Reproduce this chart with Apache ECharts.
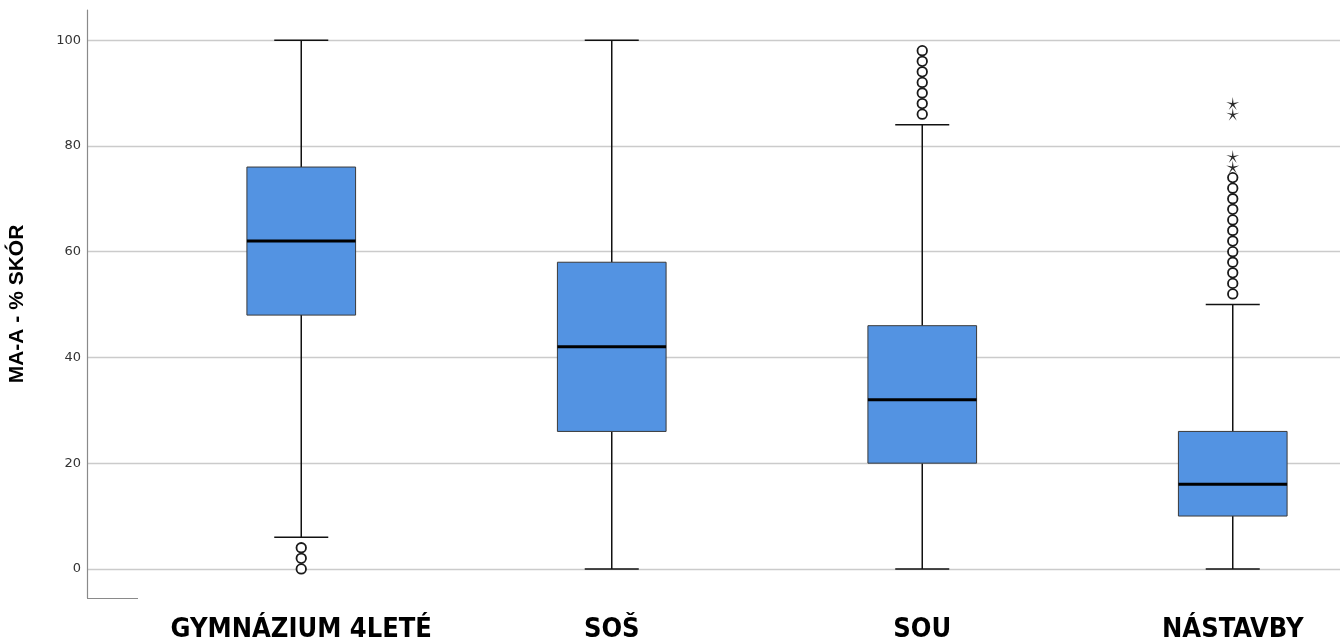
<!DOCTYPE html>
<html>
<head>
<meta charset="utf-8">
<script src="https://cdn.jsdelivr.net/npm/echarts@6/dist/echarts.min.js"></script>
<style>
  html, body { margin: 0; padding: 0; background: #fff; }
  #chart { width: 1340px; height: 642px; }
</style>
</head>
<body>
<div id="chart"></div>
<script>
const categories = ['GYMNÁZIUM 4LETÉ', 'SOŠ', 'SOU', 'NÁSTAVBY']
// box statistics: lower whisker, Q1, median, Q3, upper whisker
const lowerWhisker = [6, 0, 0, 0]
const q1 = [48, 26, 20, 10]
const median = [62, 42, 32, 16]
const q3 = [76, 58, 46, 26]
const upperWhisker = [100, 100, 84, 50]
// outliers (circles) and extremes (stars): [category index, value]
const outliers = [
  [0, 0], [0, 2], [0, 4],
  [2, 86], [2, 88], [2, 90], [2, 92], [2, 94], [2, 96], [2, 98],
  [3, 52], [3, 54], [3, 56], [3, 58], [3, 60], [3, 62], [3, 64], [3, 66], [3, 68], [3, 70], [3, 72], [3, 74]
]
const extremes = [[3, 76], [3, 78], [3, 86], [3, 88]]
const yTicks = [0, 20, 40, 60, 80, 100]

const yMin = -5.5
const yMax = 105.7

const boxData = categories.map((_, i) => [i, lowerWhisker[i], q1[i], median[i], q3[i], upperWhisker[i]])

const starPath = 'path://M0 -10L1.18 -1.62L9.51 -3.09L1.9 0.62L5.88 8.09L0 2L-5.88 8.09L-1.9 0.62L-9.51 -3.09L-1.18 -1.62Z'

function renderBox(params, api) {
  const i = api.value(0)
  const lo = api.coord([i, api.value(1)])
  const b1 = api.coord([i, api.value(2)])
  const md = api.coord([i, api.value(3)])
  const b3 = api.coord([i, api.value(4)])
  const hi = api.coord([i, api.value(5)])
  const band = api.size([1, 0])[0]
  const half = band * 0.175
  const cap = band * 0.087
  const x = lo[0]
  const lineStyle = { stroke: '#111', lineWidth: 1.5 }
  return {
    type: 'group',
    children: [
      { type: 'line', shape: { x1: x, y1: hi[1], x2: x, y2: b3[1] }, style: lineStyle },
      { type: 'line', shape: { x1: x, y1: b1[1], x2: x, y2: lo[1] }, style: lineStyle },
      { type: 'line', shape: { x1: x - cap, y1: hi[1], x2: x + cap, y2: hi[1] }, style: lineStyle },
      { type: 'line', shape: { x1: x - cap, y1: lo[1], x2: x + cap, y2: lo[1] }, style: lineStyle },
      {
        type: 'rect',
        shape: { x: x - half, y: b3[1], width: half * 2, height: b1[1] - b3[1] },
        style: { fill: '#5393e2', stroke: '#3a3a3a', lineWidth: 1 }
      },
      { type: 'line', shape: { x1: x - half, y1: md[1], x2: x + half, y2: md[1] }, style: { stroke: '#000', lineWidth: 3 } }
    ]
  }
}

const chart = echarts.init(document.getElementById('chart'))
chart.setOption({
  animation: false,
  backgroundColor: '#fff',
  grid: [
    { left: 87, right: 0, top: 10, bottom: 44, outerBoundsMode: 'none', containLabel: false },
    { left: 146, width: 1242, top: 10, bottom: 44, outerBoundsMode: 'none', containLabel: false }
  ],
  xAxis: [
    { gridIndex: 0, type: 'value', min: 0, max: 1, show: false },
    {
      gridIndex: 1,
      type: 'category',
      data: categories,
      axisLine: { show: false },
      axisTick: { show: false },
      axisLabel: {
        interval: 0,
        margin: 18,
        color: '#000',
        fontFamily: "'DejaVu Sans Condensed', 'Liberation Sans', sans-serif",
        fontWeight: 'bold',
        fontSize: 27
      }
    }
  ],
  yAxis: [
    {
      gridIndex: 0,
      type: 'value',
      min: yMin,
      max: yMax,
      name: 'MA-A - % SKÓR',
      nameLocation: 'middle',
      nameGap: 59,
      nameTextStyle: { color: '#000', fontFamily: 'Liberation Sans', fontWeight: 'bold', fontSize: 21 },
      axisLine: { show: true, lineStyle: { color: '#8a8a8a', width: 1.2 } },
      axisTick: { show: false },
      axisLabel: {
        margin: 6,
        color: '#333',
        fontFamily: 'DejaVu Sans',
        fontSize: 13,
        showMinLabel: false,
        showMaxLabel: false,
        formatter: v => (yTicks.includes(v) ? String(v) : '')
      },
      splitLine: { show: true, showMinLine: false, showMaxLine: false, lineStyle: { color: '#cbcbcb', width: 1.4 } }
    },
    { gridIndex: 1, type: 'value', min: yMin, max: yMax, show: false, splitLine: { show: false } }
  ],
  graphic: [
    { type: 'line', shape: { x1: 87, y1: 598.5, x2: 138, y2: 598.5 }, style: { stroke: '#8a8a8a', lineWidth: 1.2 } }
  ],
  series: [
    {
      type: 'custom',
      xAxisIndex: 1,
      yAxisIndex: 1,
      renderItem: renderBox,
      encode: { x: 0, y: [1, 2, 3, 4, 5] },
      data: boxData
    },
    {
      type: 'scatter',
      xAxisIndex: 1,
      yAxisIndex: 1,
      symbol: 'circle',
      symbolSize: 9.5,
      itemStyle: { color: '#fff', borderColor: '#1a1a1a', borderWidth: 1.8, opacity: 1 },
      data: outliers
    },
    {
      type: 'scatter',
      xAxisIndex: 1,
      yAxisIndex: 1,
      symbol: starPath,
      symbolSize: 13,
      itemStyle: { color: '#2a2a2a', opacity: 1 },
      data: extremes
    }
  ]
})
</script>
</body>
</html>
